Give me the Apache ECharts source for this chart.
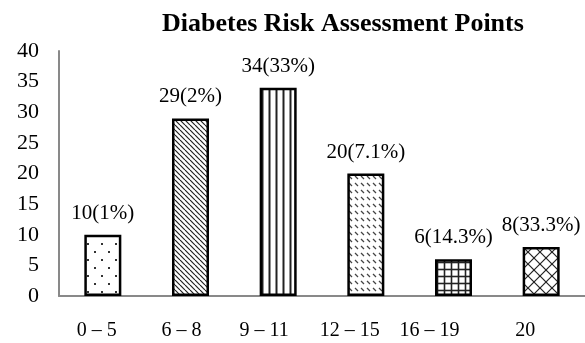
<!DOCTYPE html>
<html>
<head>
<meta charset="utf-8">
<script src="https://cdn.jsdelivr.net/npm/echarts@6/dist/echarts.min.js"></script>
<style>
  html, body { margin: 0; padding: 0; background: #fff; }
  #chart { width: 585px; height: 343px; }
</style>
</head>
<body>
<div id="chart"></div>
<script>
// Score bands, counts and their share labels
const categories = ['0 – 5', '6 – 8', '9 – 11', '12 – 15', '16 – 19', '20'];
const counts = [10, 29, 34, 20, 6, 8];
const shares = ['1%', '2%', '33%', '7.1%', '14.3%', '33.3%'];
const yTicks = [0, 5, 10, 15, 20, 25, 30, 35, 40];

const FONT = '"Liberation Serif", "DejaVu Serif", serif';

// Horizontal nudge (px, leftwards) of each band label under its bar
const labelShift = [6, 9, 14, 16, 24, 16];

// Build a small repeating fill tile on a canvas
function tile(w, h, draw) {
  const c = document.createElement('canvas');
  c.width = w; c.height = h;
  const g = c.getContext('2d');
  g.fillStyle = '#fff';
  g.fillRect(0, 0, w, h);
  g.strokeStyle = '#222';
  g.fillStyle = '#333';
  draw(g, w, h);
  return { image: c, repeat: 'repeat' };
}

const fills = [
  // sparse offset dots
  tile(14, 16, g => {
    g.fillRect(3, 3, 2, 2);
    g.fillRect(10, 11, 2, 2);
  }),
  // dense diagonal stripes
  tile(5, 5, g => {
    g.lineWidth = 1.2;
    for (let k = -1; k <= 1; k++) {
      g.beginPath(); g.moveTo(k * 5, 0); g.lineTo(k * 5 + 5, 5); g.stroke();
    }
  }),
  // vertical stripes
  tile(7, 4, g => {
    g.lineWidth = 2;
    g.beginPath(); g.moveTo(3.5, 0); g.lineTo(3.5, 4); g.stroke();
  }),
  // short dashed diagonals in rows
  tile(6, 7, g => {
    g.lineWidth = 1.3;
    g.strokeStyle = '#444';
    g.beginPath(); g.moveTo(1, 1); g.lineTo(4, 4); g.stroke();
  }),
  // square grid
  tile(7, 7, g => {
    g.lineWidth = 1.6;
    g.beginPath(); g.moveTo(3.5, 0); g.lineTo(3.5, 7); g.stroke();
    g.beginPath(); g.moveTo(0, 3.5); g.lineTo(7, 3.5); g.stroke();
  }),
  // diagonal cross-hatch
  tile(12, 12, g => {
    g.lineWidth = 1.2;
    g.beginPath(); g.moveTo(0, 0); g.lineTo(12, 12); g.stroke();
    g.beginPath(); g.moveTo(12, 0); g.lineTo(0, 12); g.stroke();
  })
];

const bandRich = {};
labelShift.forEach((s, i) => {
  bandRich['b' + i] = {
    fontFamily: FONT, fontSize: 20, color: '#000',
    padding: [0, 2 * s, 0, 0]
  };
});

const chart = echarts.init(document.getElementById('chart'), null, { renderer: 'canvas' });

chart.setOption({
  animation: false,
  backgroundColor: '#fff',
  title: {
    text: 'Diabetes Risk Assessment Points',
    left: 157, top: 6,
    textStyle: { fontFamily: FONT, fontSize: 26, fontWeight: 'bold', color: '#000' }
  },
  grid: { left: 59, right: 0, top: 51, bottom: 47 },
  xAxis: {
    type: 'category',
    data: categories,
    axisLine: { lineStyle: { color: '#898989', width: 2 } },
    axisTick: { show: false },
    axisLabel: {
      interval: 0, hideOverlap: false,
      margin: 25, color: '#000',
      fontFamily: FONT, fontSize: 20,
      formatter: (v, i) => '{b' + i + '|' + v + '}',
      rich: bandRich
    }
  },
  yAxis: {
    type: 'value',
    min: yTicks[0], max: yTicks[yTicks.length - 1], interval: 5,
    splitLine: { show: false },
    axisTick: { show: false },
    axisLine: { show: true, lineStyle: { color: '#898989', width: 2 } },
    axisLabel: {
      margin: 20, color: '#000',
      fontFamily: FONT, fontSize: 22
    }
  },
  series: [{
    type: 'bar',
    barWidth: 37,
    data: counts.map((v, i) => ({
      value: v,
      itemStyle: { color: fills[i], borderColor: '#000', borderWidth: 2.5 }
    })),
    label: {
      show: true, position: 'top', distance: 11,
      color: '#000', fontFamily: FONT, fontSize: 21,
      formatter: p => p.value + '(' + shares[p.dataIndex] + ')'
    }
  }]
});
</script>
</body>
</html>
